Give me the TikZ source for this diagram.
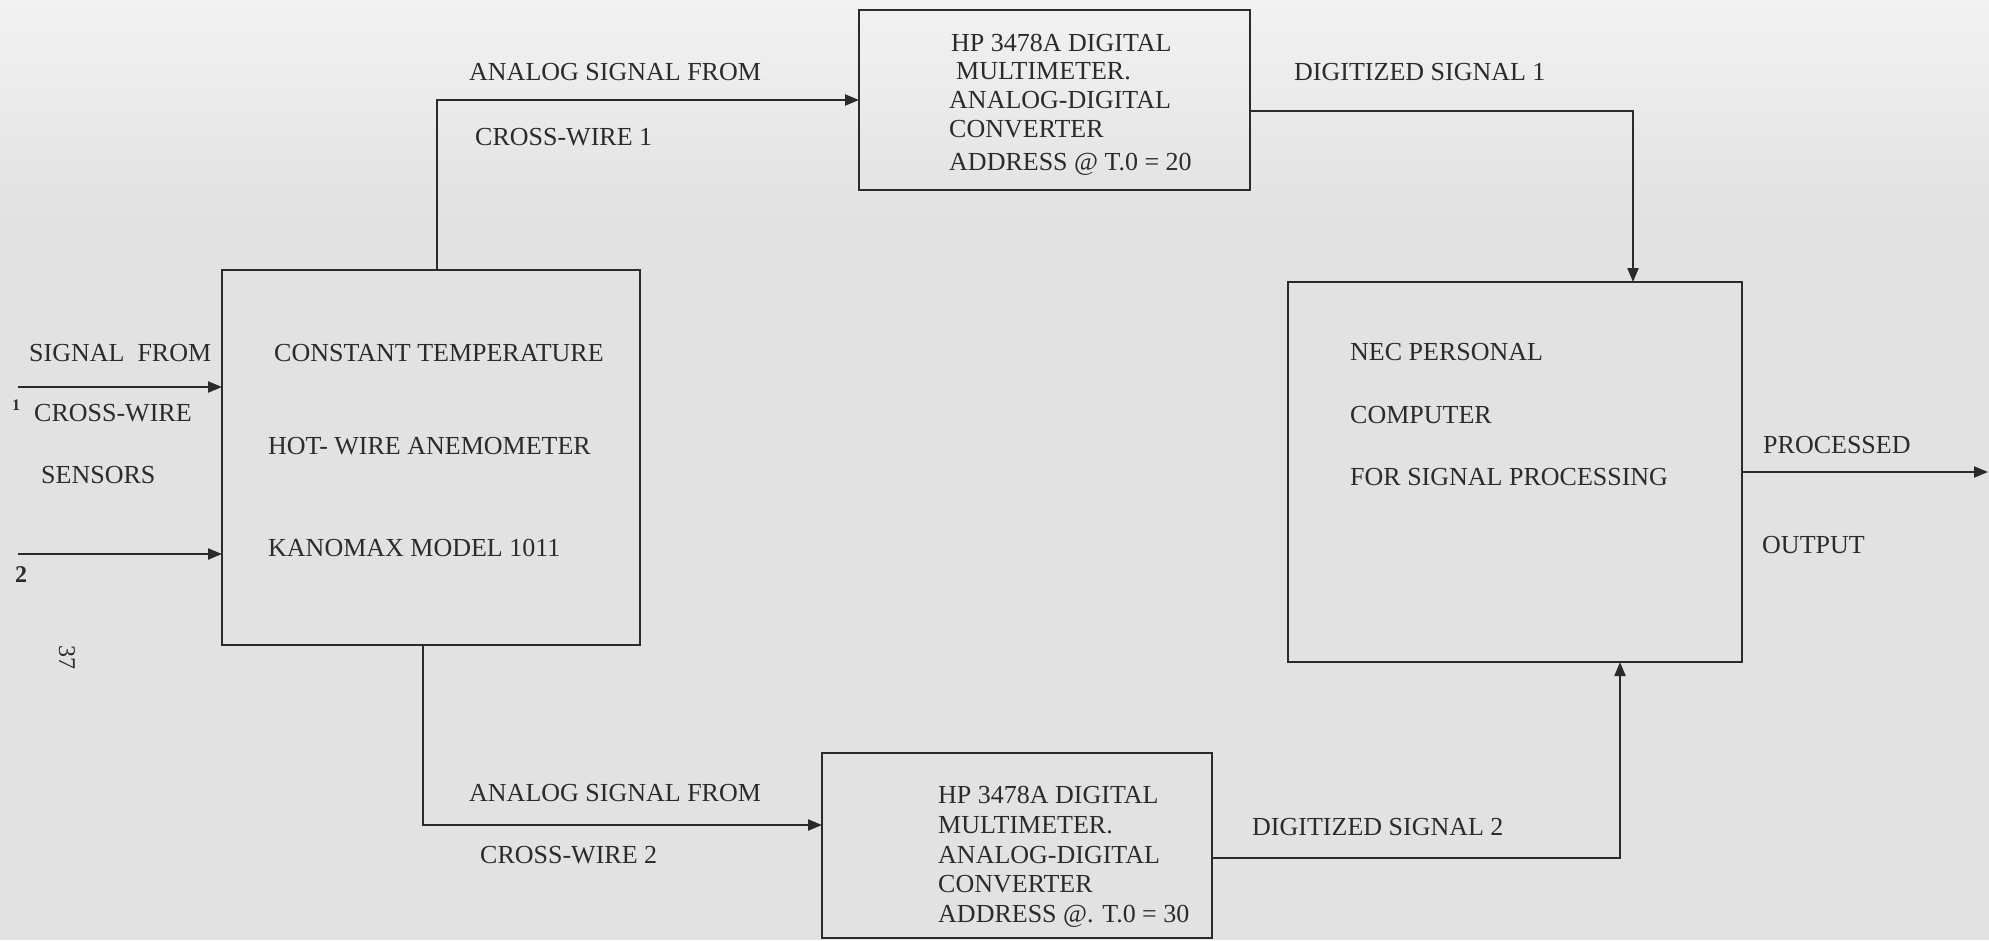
\documentclass[tikz,border=0pt]{standalone}
\usepackage{fontspec}
\setmainfont{Liberation Serif}
\usetikzlibrary{arrows.meta}
\definecolor{ink}{HTML}{2B2B2B}
\definecolor{paper}{HTML}{E2E2E2}
\definecolor{paperlight}{HTML}{F2F2F2}
\begin{document}
\begin{tikzpicture}[x=1pt,y=-1pt,
  box/.style={draw=ink, line width=2.2pt, inner sep=0pt, outer sep=0pt, anchor=north west},
  lbl/.style={inner sep=0pt, anchor=base west, text=ink, font=\fontsize{26pt}{29.5pt}\selectfont},
  wire/.style={draw=ink, line width=2.2pt},
  arr/.style={wire, -{Triangle[length=14pt,width=11pt]}},
]
\useasboundingbox (0,0) rectangle (1989,940);
\fill[paper] (0,0) rectangle (1989,940);
\shade[top color=paperlight, bottom color=paper] (0,0) rectangle (1989,220);

% boxes
\node[box, minimum width=418pt, minimum height=375pt] (cta) at (222,270) {};
\node[box, minimum width=391pt, minimum height=180pt] (dmm1) at (859,10) {};
\node[box, minimum width=390pt, minimum height=185pt] (dmm2) at (822,753) {};
\node[box, minimum width=454pt, minimum height=380pt] (nec) at (1288,282) {};

% connectors
\coordinate (in1) at (18,387);
\coordinate (in2) at (18,554);
\coordinate (out) at (1988,472);
\draw[arr] (in1) -- (in1 -| cta.west);
\draw[arr] (in2) -- (in2 -| cta.west);
\draw[arr] ([xshift=215pt]cta.north west) |- (dmm1.west);
\draw[arr] ([xshift=201pt]cta.south west) |- ([yshift=20.5pt]dmm2.west);
\draw[arr] ([yshift=-11pt]dmm1.east) -| ([xshift=345pt]nec.north west);
\draw[arr] ([yshift=-12.5pt]dmm2.east) -| ([xshift=332pt]nec.south west);
\draw[arr] (nec.east) -- (out);

% left input labels
\node[lbl] (sigfrom) at (29,361.6) {SIGNAL\ \ FROM};
\node[lbl] (cwire) at (34,421.6) {CROSS-WIRE};
\node[lbl] (sensors) at (41,483.6) {SENSORS};
\node[lbl, font=\fontsize{16pt}{16pt}\selectfont\bfseries] (h1) at (12,410) {1};
\node[lbl, font=\fontsize{24pt}{24pt}\selectfont\bfseries] (h2) at (15,582) {2};
\node[inner sep=0pt, text=ink, font=\fontsize{24pt}{24pt}\selectfont, rotate=-90] (pg) at (67,657) {37};

% anemometer
\node[lbl] (cta1) at (274,361.6) {CONSTANT TEMPERATURE};
\node[lbl] (cta2) at (268,454.6) {HOT- WIRE ANEMOMETER};
\node[lbl] (cta3) at (268,556.6) {KANOMAX MODEL 1011};

% upper branch
\node[lbl] (asf1) at (469,80.6) {ANALOG SIGNAL FROM};
\node[lbl] (cw1) at (475,145.6) {CROSS-WIRE 1};
\node[lbl] (d1a) at (951,51.6) {HP 3478A DIGITAL};
\node[lbl] (d1b) at (956,79.6) {MULTIMETER.};
\node[lbl] (d1c) at (949,108.6) {ANALOG-DIGITAL};
\node[lbl] (d1d) at (949,137.6) {CONVERTER};
\node[lbl] (d1e) at (949,170.6) {ADDRESS @ T.0 = 20};
\node[lbl] (dig1) at (1294,80.6) {DIGITIZED SIGNAL 1};

% lower branch
\node[lbl] (asf2) at (469,801.6) {ANALOG SIGNAL FROM};
\node[lbl] (cw2) at (480,863.6) {CROSS-WIRE 2};
\node[lbl] (d2a) at (938,803.6) {HP 3478A DIGITAL};
\node[lbl] (d2b) at (938,833.6) {MULTIMETER.};
\node[lbl] (d2c) at (938,863.6) {ANALOG-DIGITAL};
\node[lbl] (d2d) at (938,892.6) {CONVERTER};
\node[lbl] (d2e) at (938,922.6) {ADDRESS @. T.0 = 30};
\node[lbl] (dig2) at (1252,835.6) {DIGITIZED SIGNAL 2};

% computer
\node[lbl] (nec1) at (1350,360.6) {NEC PERSONAL};
\node[lbl] (nec2) at (1350,423.6) {COMPUTER};
\node[lbl] (nec3) at (1350,485.6) {FOR SIGNAL PROCESSING};
\node[lbl] (proc) at (1763,453.6) {PROCESSED};
\node[lbl] (outp) at (1762,553.6) {OUTPUT};
\end{tikzpicture}
\end{document}
